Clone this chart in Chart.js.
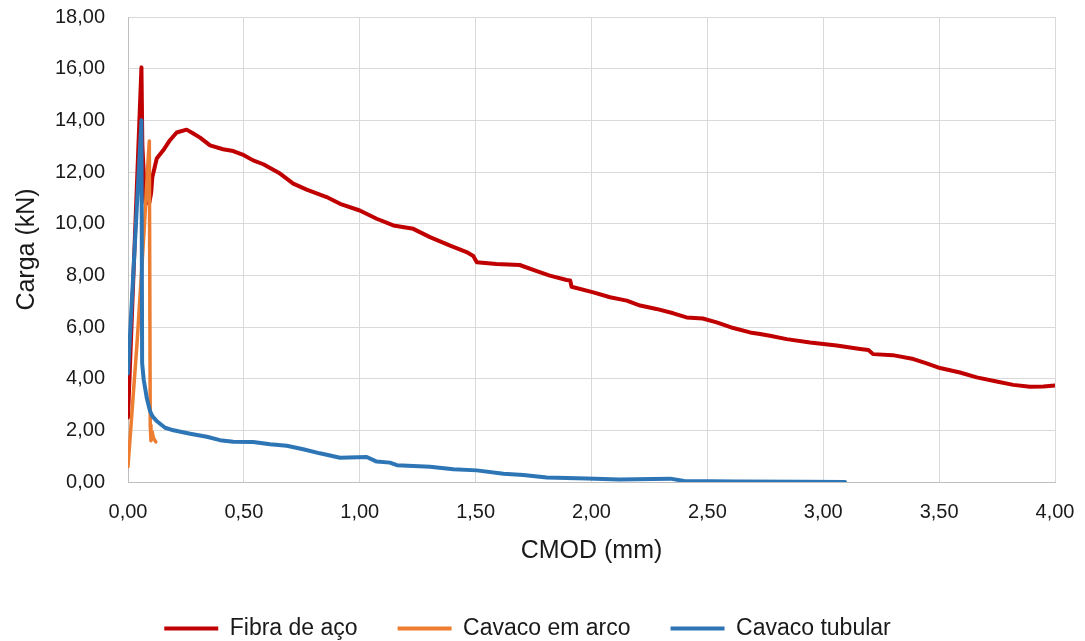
<!DOCTYPE html>
<html>
<head>
<meta charset="utf-8">
<script src="https://cdn.jsdelivr.net/npm/chart.js@4"></script>
<style>
  html, body { margin: 0; padding: 0; background: #fff; }
  #wrap { width: 1085px; height: 641px; position: relative; }
</style>
</head>
<body>
<div id="wrap"><canvas id="chart"></canvas></div>
<script>
// CMOD (mm) / Carga (kN)
const fibraX = [0, 0.058, 0.062, 0.075, 0.092, 0.1, 0.105, 0.124, 0.152, 0.181, 0.21, 0.253, 0.28, 0.311, 0.354, 0.41, 0.454, 0.5, 0.54, 0.584, 0.656, 0.713, 0.771, 0.857, 0.915, 1.0, 1.073, 1.145, 1.231, 1.303, 1.39, 1.461, 1.49, 1.505, 1.59, 1.69, 1.764, 1.82, 1.893, 1.908, 1.914, 2.008, 2.08, 2.152, 2.21, 2.28, 2.353, 2.41, 2.48, 2.54, 2.612, 2.684, 2.727, 2.77, 2.842, 2.943, 3.058, 3.159, 3.195, 3.215, 3.30, 3.389, 3.446, 3.504, 3.59, 3.662, 3.748, 3.82, 3.892, 3.95, 4.0];
const fibraY = [2.5, 16.05, 13.0, 10.8, 10.8, 11.2, 11.8, 12.52, 12.84, 13.23, 13.53, 13.64, 13.5, 13.33, 13.03, 12.88, 12.81, 12.65, 12.45, 12.3, 11.94, 11.55, 11.32, 11.03, 10.77, 10.51, 10.19, 9.93, 9.8, 9.48, 9.15, 8.9, 8.75, 8.51, 8.44, 8.4, 8.16, 7.99, 7.82, 7.8, 7.56, 7.34, 7.15, 7.02, 6.83, 6.7, 6.53, 6.37, 6.33, 6.18, 5.96, 5.79, 5.73, 5.66, 5.53, 5.40, 5.28, 5.15, 5.11, 4.95, 4.91, 4.76, 4.59, 4.41, 4.24, 4.05, 3.89, 3.76, 3.69, 3.70, 3.74];

const arcoX = [0, 0.04, 0.07, 0.085, 0.092, 0.096, 0.099, 0.104, 0.11, 0.12];
const arcoY = [0.6, 5.5, 9.8, 12.2, 13.2, 2.2, 1.6, 1.95, 1.7, 1.55];

const tubularX = [0, 0.058, 0.061, 0.068, 0.081, 0.095, 0.105, 0.125, 0.16, 0.196, 0.268, 0.34, 0.397, 0.454, 0.54, 0.613, 0.685, 0.756, 0.828, 0.915, 1.03, 1.073, 1.13, 1.16, 1.303, 1.404, 1.505, 1.62, 1.706, 1.807, 1.98, 2.12, 2.34, 2.40, 2.627, 2.914, 3.094];
const tubularY = [4.2, 14.0, 4.6, 3.95, 3.25, 2.75, 2.55, 2.35, 2.1, 2.0, 1.87, 1.75, 1.62, 1.56, 1.55, 1.46, 1.40, 1.27, 1.11, 0.94, 0.97, 0.79, 0.75, 0.65, 0.59, 0.49, 0.45, 0.32, 0.27, 0.17, 0.14, 0.10, 0.13, 0.04, 0.02, 0.01, 0.0];

const seriesNames = ["Fibra de aço", "Cavaco em arco", "Cavaco tubular"];

function pts(xs, ys) {
    return xs.map((x, i) => ({ x: x, y: ys[i] }));
}
function comma(v) {
    return Number(v).toFixed(2).replace(".", ",");
}

const FONT = "'Liberation Sans', Arial, sans-serif";
const TEXT = "#1a1a1a";

// keep the legend band short so it sits low, under the axis title
const legendHeight = {
    id: "legendHeight",
    beforeLayout(chart) {
        const lg = chart.legend;
        if (lg && !lg._patched) {
            const fit = lg.fit.bind(lg);
            lg.fit = function () { fit(); this.height = 64; };
            lg._patched = true;
        }
    }
};

new Chart(document.getElementById("chart"), {
    type: "scatter",
    data: {
        datasets: [
            { label: seriesNames[0], data: pts(fibraX, fibraY), borderColor: "#C00000", backgroundColor: "#C00000", borderWidth: 4, order: 2 },
            { label: seriesNames[1], data: pts(arcoX, arcoY), borderColor: "#ED7D31", backgroundColor: "#ED7D31", borderWidth: 3.5, order: 1 },
            { label: seriesNames[2], data: pts(tubularX, tubularY), borderColor: "#2E75B6", backgroundColor: "#2E75B6", borderWidth: 4, order: 0 }
        ]
    },
    options: {
        responsive: true,
        maintainAspectRatio: false,
        animation: false,
        showLine: true,
        elements: {
            point: { radius: 0, hoverRadius: 0 },
            line: { tension: 0, borderJoinStyle: "round", borderCapStyle: "round" }
        },
        layout: { padding: { left: 0, right: 30, top: 17, bottom: 0 } },
        scales: {
            x: {
                type: "linear",
                min: 0,
                max: 4,
                afterFit: (s) => { s.height = 95; s.paddingRight = 0; s.paddingLeft = 0; },
                ticks: {
                    stepSize: 0.5,
                    padding: 18,
                    color: TEXT,
                    font: { family: FONT, size: 20 },
                    callback: (v) => comma(v)
                },
                grid: { color: "#D9D9D9", lineWidth: 1, drawTicks: false },
                border: { color: "#BFBFBF", width: 1 },
                title: {
                    display: true,
                    text: "CMOD (mm)",
                    color: TEXT,
                    font: { family: FONT, size: 25 },
                    padding: { top: 0, bottom: 11 }
                }
            },
            y: {
                min: 0,
                max: 18,
                afterFit: (s) => { s.width = 128; s.paddingTop = 0; s.paddingBottom = 0; },
                ticks: {
                    stepSize: 2,
                    padding: 23,
                    color: TEXT,
                    font: { family: FONT, size: 20 },
                    callback: (v) => comma(v)
                },
                grid: { color: "#D9D9D9", lineWidth: 1, drawTicks: false },
                border: { color: "#BFBFBF", width: 1 },
                title: {
                    display: true,
                    text: "Carga (kN)",
                    color: TEXT,
                    font: { family: FONT, size: 25 },
                    padding: { top: 12, bottom: 0 }
                }
            }
        },
        plugins: {
            tooltip: { enabled: false },
            legend: {
                position: "bottom",
                labels: {
                    color: TEXT,
                    font: { family: FONT, size: 23 },
                    boxWidth: 54,
                    boxHeight: 4,
                    padding: 40,
                    sort: (a, b) => a.datasetIndex - b.datasetIndex,
                    generateLabels: (chart) => {
                        const items = Chart.defaults.plugins.legend.labels.generateLabels(chart);
                        items.forEach((it) => {
                            it.lineWidth = 0;
                            it.fillStyle = it.strokeStyle;
                        });
                        return items;
                    }
                }
            }
        }
    },
    plugins: [legendHeight]
});
</script>
</body>
</html>
